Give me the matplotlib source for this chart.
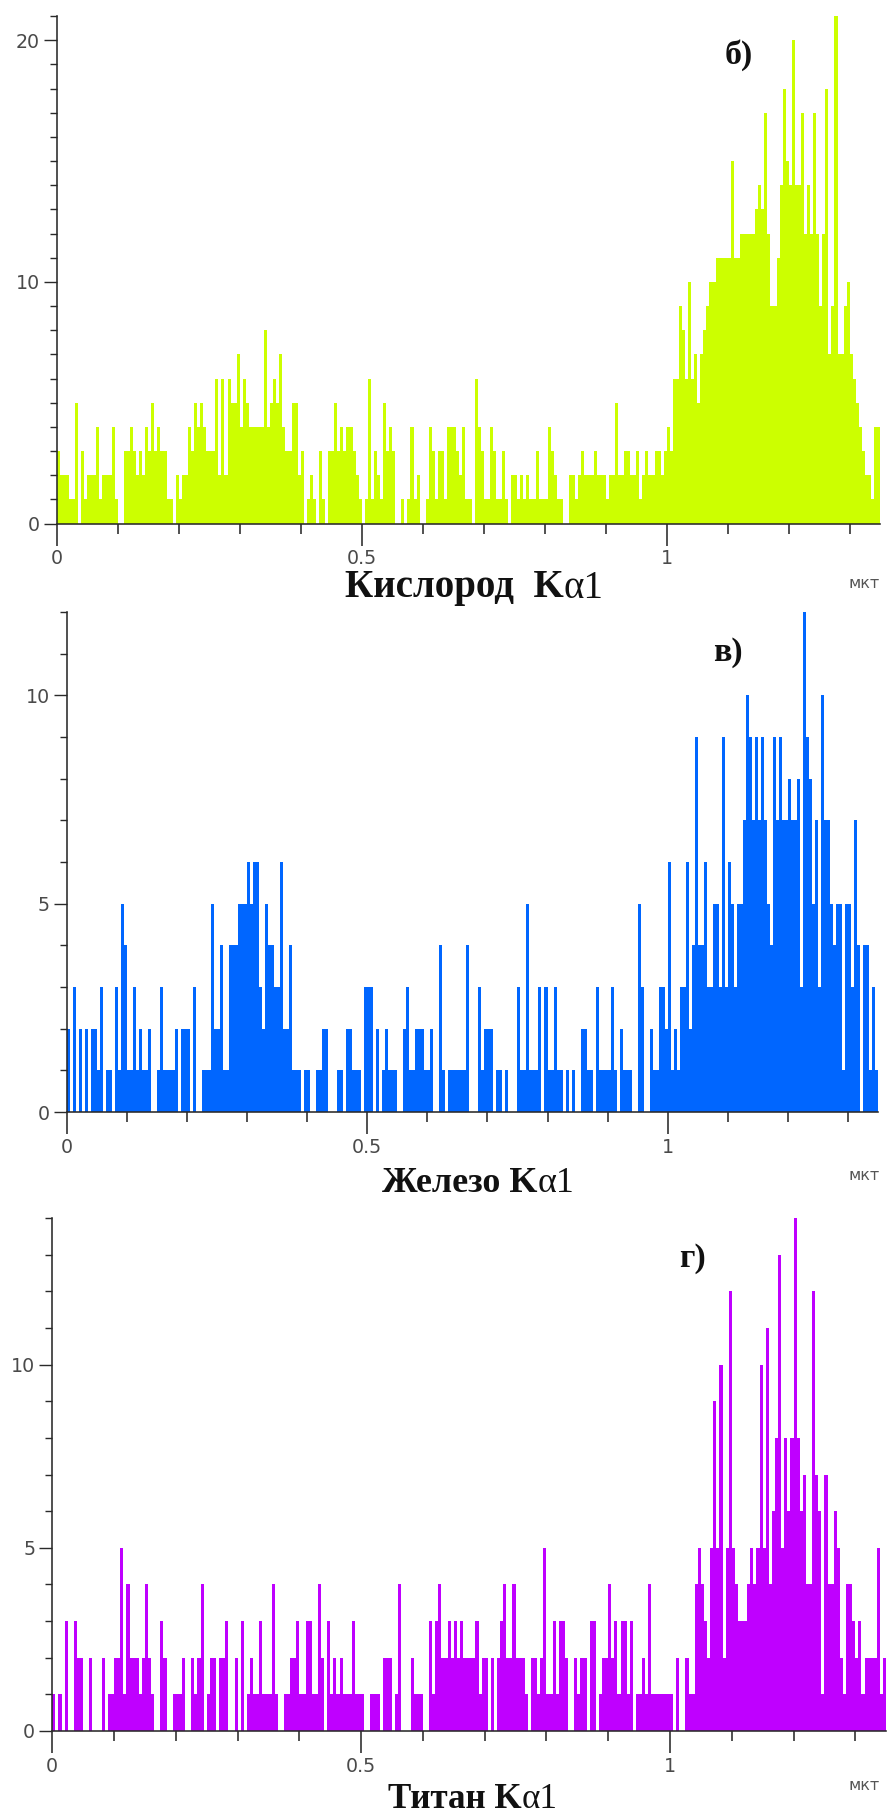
import numpy as np
import matplotlib
matplotlib.use("Agg")
import matplotlib.pyplot as plt

# ---------------- data (counts per 0.005 µm bin, 0 .. 1.35 µm) ----------------
bin_width = 0.005
x_ticks = [0, 0.5, 1]
x_tick_labels = ["0", "0.5", "1"]
unit = "мкт"

oxygen = [3,2,2,2,1,1,5,0,3,1, 2,2,2,4,1,2,2,2,4,1, 0,0,3,3,4,3,2,3,2,4,
          3,5,3,4,3,3,1,1,0,2, 1,2,2,4,3,5,4,5,4,3, 3,3,6,2,6,2,6,5,5,7,
          4,6,5,4,4,4,4,4,8,4, 5,6,5,7,4,3,3,5,5,2, 3,0,1,2,1,0,3,1,0,3,
          3,5,3,4,3,4,4,3,2,1, 0,1,6,1,3,2,1,5,3,4, 3,0,0,1,0,1,4,1,2,0,
          0,1,4,3,1,3,3,1,4,
          4,4,3,2,4,1,1,0,6,4, 3,1,1,4,3,1,1,3,1,0, 2,2,1,2,1,2,1,1,3,1,
          1,1,4,3,2,1,1,0,0,2, 2,1,2,3,2,2,2,3,2,2, 2,1,2,2,5,2,2,3,3,2,
          2,3,1,2,3,2,2,3,3,2, 3,4,3,6,6,9,8,6,10,6, 7,5,7,8,9,10,10,11,11,11,
          11,11,15,11,11,12,12,12,12,12, 13,14,13,17,12,9,9,11,14,18,
          15,14,20,14,14,17,12,14,12,17, 12,9,12,18,7,9,21,7,7,9,
          10,7,6,5,4,3,2,2,1,4,4]

iron = [2,0,3,0,2,0,2,0,2,2, 1,3,0,1,1,0,3,1,5,4, 1,1,3,1,2,1,1,2,0,0,
        1,3,1,1,1,1,2,0,2,2, 2,0,3,0,0,1,1,1,5,2, 2,4,1,1,4,4,4,5,5,5,
        6,5,6,6,3,2,5,4,4,3, 3,6,2,2,4,1,1,1,0,1, 1,0,0,1,1,2,2,0,0,0,
        1,1,0,2,2,1,1,1,0,3, 3,3,0,2,0,1,2,1,1,1, 0,0,2,3,1,1,2,2,2,1,
        1,2,0,0,4,1,0,1,
        1,1,1,1,1,4,0,0,0,3, 1,2,2,2,0,1,1,0,1,0, 0,0,3,1,1,5,1,1,1,3,
        0,3,1,1,3,1,1,0,1,0, 1,0,0,2,2,1,1,0,3,1, 1,1,1,3,1,0,2,1,1,1,
        0,0,5,3,0,0,2,1,1,3, 3,2,6,1,2,1,3,3,6,2, 4,9,4,4,6,3,3,5,5,3,
        9,3,6,5,3,5,5,7,10,9, 7,9,7,9,7,5,4,9,7,9, 7,7,8,7,7,8,3,12,9,8,
        5,7,3,10,7,7,5,4,5,5, 1,5,5,3,7,4,0,4,4,1,3,1]

titanium = [1,0,1,0,3,0,0,3,2,2, 0,0,2,0,0,0,2,0,1,1, 2,2,5,1,4,2,2,2,1,2,
            4,2,1,0,0,3,2,0,0,1, 1,1,2,0,0,2,1,2,4,0, 1,2,2,0,2,2,3,0,0,2,
            0,3,0,1,2,1,1,3,1,1, 1,4,1,0,0,1,1,2,2,3, 1,1,3,3,1,1,4,2,0,3,
            1,2,1,2,1,1,1,3,1,1, 1,0,0,1,1,1,0,2,2,2, 0,1,4,0,0,0,2,1,1,1,
            0,0,3,1,3,4,2,2,
            3,2,3,2,3,2,2,2,2,3, 1,2,2,0,2,0,2,3,4,2, 2,4,2,2,2,1,0,2,2,1,
            2,5,1,1,3,1,3,3,2,0, 0,2,1,2,2,0,3,3,0,1, 2,2,4,2,3,1,3,3,1,3,
            0,1,1,2,1,4,1,1,1,1, 1,1,1,0,2,0,0,2,1,1, 4,5,4,3,2,5,9,5,10,2,
            5,12,5,4,3,3,3,4,5,4, 5,10,5,11,4,6,8,13,5,8, 6,8,14,8,6,7,4,4,12,7,
            6,1,7,4,4,6,5,2,1,4, 4,3,2,3,1,2,2,2,2,5,1,2]

titles = ["Кислород  K", "Железо K", "Титан K"]
title_suffix = "α1"
panel_tags = ["б)", "в)", "г)"]
y_major = [[0, 10, 20], [0, 5, 10], [0, 5, 10]]
y_max = [21, 12, 14]
colors = ["#CCFF00", "#0066FF", "#BF00FF"]

# ---------------- layout (pixels of an 889 x 1816 canvas) ----------------
W, H = 889, 1816
DPI = 72
fig = plt.figure(figsize=(W / DPI, H / DPI), dpi=DPI)
fig.patch.set_facecolor("white")

# (left px, px per µm, zero-line y px, top y px)
layouts = [(56.7, 610.0, 523.5, 16.0),
           (66.7, 601.0, 1112.0, 612.0),
           (52.3, 617.7, 1731.0, 1218.0)]
title_pos = [(345, 588), (382, 1183), (388, 1799)]
title_size = [39, 36, 35]
tag_pos = [(739, 55), (728, 652), (692, 1258)]
unit_pos = [(864, 583), (864, 1175), (864, 1786)]

series = [oxygen, iron, titanium]
tick_color = "#4a4a4a"
spine_color = "#2a2a2a"

for k in range(3):
    left, ppu, y0, ytop = layouts[k]
    xmax = 1.35
    ax = fig.add_axes([left / W, (H - y0) / H, xmax * ppu / W, (y0 - ytop) / H])
    vals = np.array(series[k], dtype=float)
    edges = np.arange(len(vals) + 1) * bin_width
    ax.stairs(vals, edges, fill=True, color=colors[k], linewidth=0)
    ax.set_xlim(0, xmax)
    ax.set_ylim(0, y_max[k])
    for s in ["top", "right"]:
        ax.spines[s].set_visible(False)
    for s in ["left", "bottom"]:
        ax.spines[s].set_color(spine_color)
        ax.spines[s].set_linewidth(1.6)
    ax.set_facecolor("none")
    ax.set_xticks(x_ticks)
    ax.set_xticklabels(x_tick_labels)
    ax.set_xticks(np.arange(0, 1.35, 0.1), minor=True)
    ax.set_yticks(y_major[k])
    ax.set_yticks(np.arange(0, y_max[k] + 0.01, 1), minor=True)
    ax.tick_params(axis="x", which="major", length=22, width=1.6, pad=4,
                   colors=spine_color, labelcolor=tick_color, labelsize=19)
    ax.tick_params(axis="x", which="minor", length=10, width=1.6,
                   colors=spine_color)
    ax.tick_params(axis="y", which="major", length=13, width=1.4, pad=4,
                   colors=spine_color, labelcolor=tick_color, labelsize=19)
    ax.tick_params(axis="y", which="minor", length=7, width=1.4,
                   colors=spine_color)

    # title: bold part + regular suffix
    tx, ty = title_pos[k]
    t1 = fig.text(tx / W, 1 - ty / H, titles[k], ha="left", va="center",
                  fontsize=title_size[k], fontweight="bold",
                  family="Liberation Serif", color="#111111")
    ax.annotate(title_suffix, xy=(1, 0), xycoords=t1, ha="left", va="bottom",
                fontsize=title_size[k], family="Liberation Serif",
                color="#111111", annotation_clip=False)
    gx, gy = tag_pos[k]
    fig.text(gx / W, 1 - gy / H, panel_tags[k], ha="center", va="center",
             fontsize=34, fontweight="bold", family="Liberation Serif",
             color="#111111")
    ux, uy = unit_pos[k]
    fig.text(ux / W, 1 - uy / H, unit, ha="center", va="center",
             fontsize=16, color="#555555")

fig.savefig("out.png", dpi=DPI, facecolor="white")
